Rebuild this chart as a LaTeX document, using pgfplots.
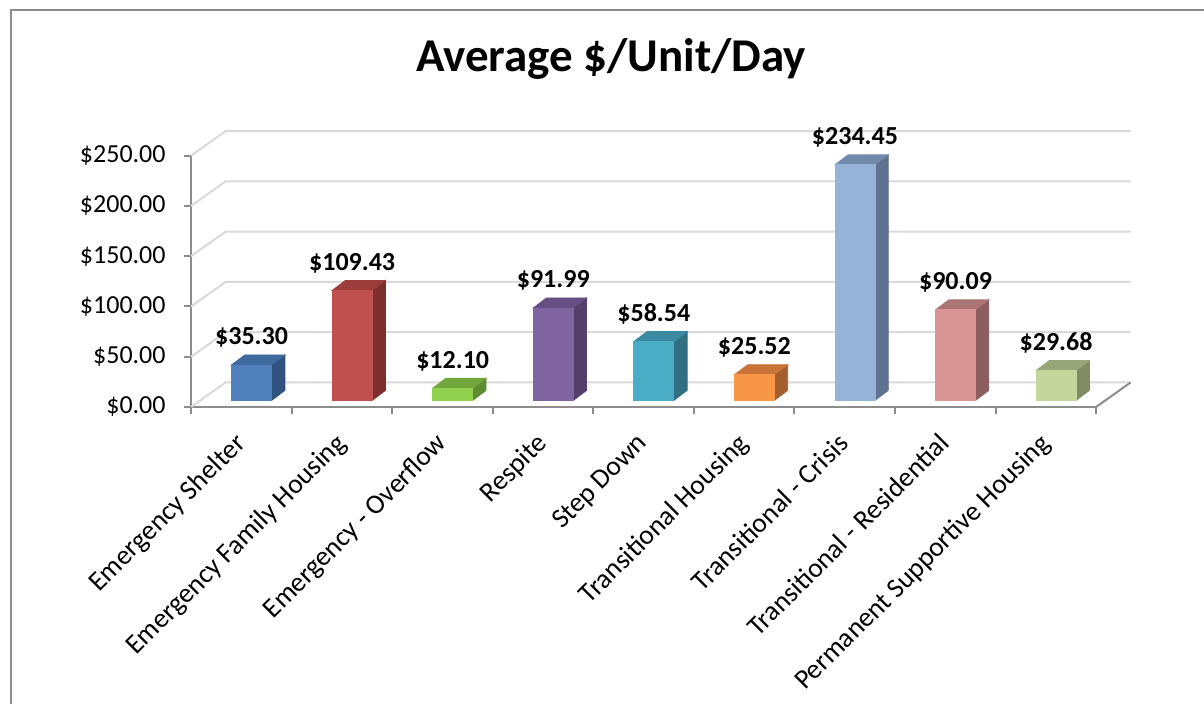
\documentclass[border=0pt]{standalone}
\usepackage{pgfplots}
\pgfplotsset{compat=1.18}
\usepackage{pgfplotstable}
\usepackage{fontspec}
\setmainfont{Carlito}
\definecolor{fr0}{HTML}{4F81BD}\definecolor{tp0}{HTML}{3F6A9E}\definecolor{sd0}{HTML}{30527E}
\definecolor{fr1}{HTML}{C0504D}\definecolor{tp1}{HTML}{9C3D3B}\definecolor{sd1}{HTML}{7D2F2D}
\definecolor{fr2}{HTML}{92D050}\definecolor{tp2}{HTML}{70A63C}\definecolor{sd2}{HTML}{5E8C31}
\definecolor{fr3}{HTML}{8064A2}\definecolor{tp3}{HTML}{664F84}\definecolor{sd3}{HTML}{52406B}
\definecolor{fr4}{HTML}{4BACC6}\definecolor{tp4}{HTML}{3A8AA1}\definecolor{sd4}{HTML}{2F6F81}
\definecolor{fr5}{HTML}{F79646}\definecolor{tp5}{HTML}{C87438}\definecolor{sd5}{HTML}{A3602E}
\definecolor{fr6}{HTML}{95B3D7}\definecolor{tp6}{HTML}{7189AA}\definecolor{sd6}{HTML}{5F7290}
\definecolor{fr7}{HTML}{D99694}\definecolor{tp7}{HTML}{A97473}\definecolor{sd7}{HTML}{8C5E5D}
\definecolor{fr8}{HTML}{C3D69B}\definecolor{tp8}{HTML}{97A678}\definecolor{sd8}{HTML}{7F8C64}
\definecolor{gridc}{HTML}{D9D9D9}
\definecolor{axgray}{HTML}{8C8C8C}
\definecolor{bordergray}{HTML}{8C8C8C}
\pgfdeclareplotmark{empty}{}

\pgfplotstableread{
idx v
0 35.30
1 109.43
2 12.10
3 91.99
4 58.54
5 25.52
6 234.45
7 90.09
8 29.68
}\costs

\begin{document}
\begin{tikzpicture}[x=1pt,y=1pt]
\path[use as bounding box] (0,0) rectangle (602,352);
\draw[bordergray, line width=1pt] (5.5,0) -- (5.5,347) -- (602,347);
\node[font=\bfseries\fontsize{23.5}{28}\selectfont, anchor=base] at (305.5,316) {Average \$/Unit/Day};
\begin{axis}[
  at={(95.5pt,148.5pt)}, anchor=south west,
  x=50.28pt, y=0.5025pt,
  xmin=-0.5, xmax=8.5, ymin=0, ymax=250,
  clip=false,
  axis x line*=bottom, axis y line*=left,
  axis line style={draw=axgray, line width=1pt},
  tick align=outside,
  major tick length=3.5pt,
  ytick={0,50,...,250},
  y tick style={draw=axgray, line width=1pt},
  yticklabel={\$\pgfmathprintnumber[fixed,fixed zerofill,precision=2,assume math mode=true]{\tick}},
  yticklabel style={font=\fontsize{13}{15}\selectfont, anchor=east, inner sep=0pt, xshift=-9pt},
  xtick={0,...,8},
  x tick style={draw=none},
  xticklabels={Emergency Shelter, Emergency Family Housing, Emergency - Overflow, Respite, Step Down, Transitional Housing, Transitional - Crisis, Transitional - Residential, Permanent Supportive Housing},
  xticklabel style={font=\fontsize{13.75}{16}\selectfont, xshift=-4pt, yshift=-8.5pt, rotate=45, anchor=north east, inner sep=0pt},
]
\pgfplotsinvokeforeach{0,50,...,250}{
  \draw[gridc, line width=1pt] (axis cs:-0.5,#1) -- ([shift={(17.25pt,12.25pt)}]axis cs:-0.5,#1) -- ([shift={(17.25pt,12.25pt)}]axis cs:8.5,#1);
}
\draw[axgray, line width=1pt] (axis cs:8.5,0) -- ([shift={(17.25pt,12.25pt)}]axis cs:8.5,0);
\pgfplotsinvokeforeach{-0.5,0.5,...,8.5}{
  \draw[axgray, line width=1pt] (axis cs:#1,0) -- ([yshift=-3.5pt]axis cs:#1,0);
}
\addplot[scatter, only marks, mark=empty,
  visualization depends on={\thisrow{idx} \as \ci},
  visualization depends on={\thisrow{v} \as \val},
  scatter/@pre marker code/.code={%
    \pgfmathtruncatemacro{\cc}{round(\ci)}%
    \pgfmathsetmacro{\hh}{0.5025*\val}%
    \fill[sd\cc] (15.15pt,3.3pt) -- (21.8pt,8.3pt) -- (21.8pt,{8.3pt-\hh pt}) -- (15.15pt,{3.3pt-\hh pt}) -- cycle;
    \fill[tp\cc] (-4.85pt,3.3pt) -- (15.15pt,3.3pt) -- (21.8pt,8.3pt) -- (1.8pt,8.3pt) -- cycle;
    \fill[fr\cc] (-4.85pt,{3.3pt-\hh pt}) rectangle (15.15pt,3.3pt);
    \node[anchor=base, inner sep=0pt, text=black, font=\bfseries\fontsize{13}{15}\selectfont] at (5.15pt,13.3pt) {\$\pgfmathprintnumber[fixed,fixed zerofill,precision=2,assume math mode=true]{\val}};
  },
  scatter/@post marker code/.code={},
] table[x=idx, y=v] {\costs};
\end{axis}
\end{tikzpicture}
\end{document}
